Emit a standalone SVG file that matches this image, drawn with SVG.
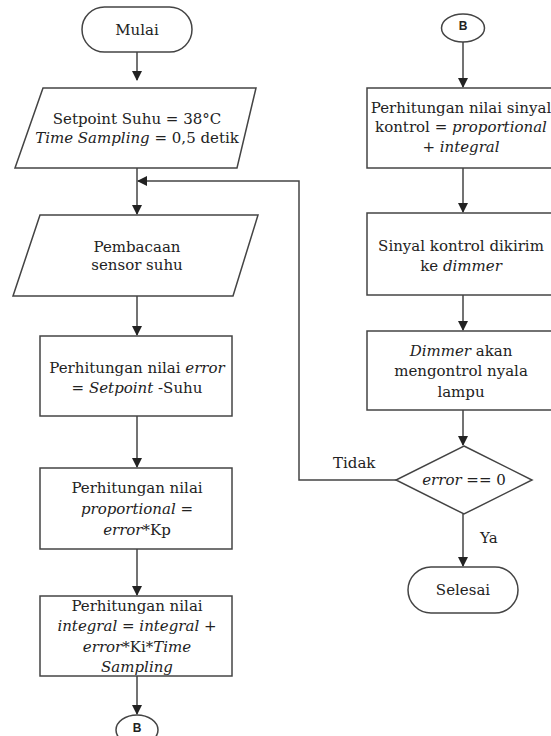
<svg xmlns="http://www.w3.org/2000/svg" width="551" height="736" viewBox="0 0 551 736">
<defs>
<marker id="ah" markerWidth="10" markerHeight="10" refX="9" refY="5" orient="auto" markerUnits="userSpaceOnUse">
<path d="M0,0 L10,5 L0,10 Z" fill="#222"/>
</marker>
<style>
.s{fill:#fff;stroke:#444;stroke-width:1.5}
.c{fill:none;stroke:#444;stroke-width:1.5}
text{font-family:"DejaVu Serif","Liberation Serif",serif;font-size:15px;fill:#222;text-anchor:middle}
.i{font-style:italic}
.b{font-family:"Liberation Sans",Arial,sans-serif;font-size:12px;font-weight:bold}
.l{text-anchor:start}
</style>
</defs>
<rect width="551" height="736" fill="#fff"/>
<g id="connectors">
<path class="c" d="M137,52 V80" marker-end="url(#ah)"/>
<path class="c" d="M137,168 V214" marker-end="url(#ah)"/>
<path class="c" d="M137,296 V335" marker-end="url(#ah)"/>
<path class="c" d="M137,416 V467" marker-end="url(#ah)"/>
<path class="c" d="M137,549 V595" marker-end="url(#ah)"/>
<path class="c" d="M137,676 V714" marker-end="url(#ah)"/>
<path class="c" d="M463,42 V87" marker-end="url(#ah)"/>
<path class="c" d="M463,168 V212" marker-end="url(#ah)"/>
<path class="c" d="M463,295 V330" marker-end="url(#ah)"/>
<path class="c" d="M463,410 V445" marker-end="url(#ah)"/>
<path class="c" d="M463,514 V566" marker-end="url(#ah)"/>
<path class="c" d="M396,480 H299 V181 H138" marker-end="url(#ah)"/>
<text class="l" x="333" y="468">Tidak</text>
<text class="l" x="480" y="543">Ya</text>
</g>
<g id="mulai">
<rect class="s" x="82" y="7" width="110" height="45" rx="22.5"/>
<text x="137" y="35">Mulai</text>
</g>
<g id="setpoint">
<polygon class="s" points="43,88 256,88 237,168 15,168"/>
<text x="137" y="124">Setpoint Suhu = 38°C</text>
<text x="137" y="143"><tspan class="i">Time Sampling</tspan> = 0,5 detik</text>
</g>
<g id="pembacaan">
<polygon class="s" points="40,215 258,215 233,296 13,296"/>
<text x="137" y="252">Pembacaan</text>
<text x="137" y="270">sensor suhu</text>
</g>
<g id="error">
<rect class="s" x="40" y="336" width="192" height="80"/>
<text x="137" y="373">Perhitungan nilai <tspan class="i">error</tspan></text>
<text x="137" y="393">= <tspan class="i">Setpoint</tspan> -Suhu</text>
</g>
<g id="proportional">
<rect class="s" x="40" y="468" width="192" height="81"/>
<text x="137" y="493">Perhitungan nilai</text>
<text x="137" y="514" class="i">proportional =</text>
<text x="137" y="535"><tspan class="i">error</tspan>*Kp</text>
</g>
<g id="integral">
<rect class="s" x="40" y="596" width="192" height="80"/>
<text x="137" y="611">Perhitungan nilai</text>
<text x="137" y="631"><tspan class="i">integral = integral</tspan> +</text>
<text x="137" y="652"><tspan class="i">error</tspan>*Ki*<tspan class="i">Time</tspan></text>
<text x="137" y="672" class="i">Sampling</text>
</g>
<g id="b-bottom">
<ellipse class="s" cx="137" cy="730" rx="21" ry="15"/>
<text class="b" x="137" y="732">B</text>
</g>
<g id="b-top">
<ellipse class="s" cx="463" cy="28" rx="21.5" ry="14"/>
<text class="b" x="463" y="30">B</text>
</g>
<g id="sinyal">
<rect class="s" x="367" y="88" width="200" height="80"/>
<text x="461" y="113">Perhitungan nilai sinyal</text>
<text x="461" y="132">kontrol = <tspan class="i">proportional</tspan></text>
<text x="461" y="152" class="i">+ integral</text>
</g>
<g id="dikirim">
<rect class="s" x="367" y="213" width="200" height="82"/>
<text x="461" y="251">Sinyal kontrol dikirim</text>
<text x="461" y="271">ke <tspan class="i">dimmer</tspan></text>
</g>
<g id="dimmer">
<rect class="s" x="367" y="331" width="200" height="79"/>
<text x="461" y="356"><tspan class="i">Dimmer</tspan> akan</text>
<text x="461" y="376">mengontrol nyala</text>
<text x="461" y="397">lampu</text>
</g>
<g id="decision">
<polygon class="s" points="464,446 532,480 464,514 396,480"/>
<text x="464" y="485"><tspan class="i">error</tspan> == 0</text>
</g>
<g id="selesai">
<rect class="s" x="408" y="567" width="110" height="46" rx="23"/>
<text x="463" y="595">Selesai</text>
</g>
</svg>
